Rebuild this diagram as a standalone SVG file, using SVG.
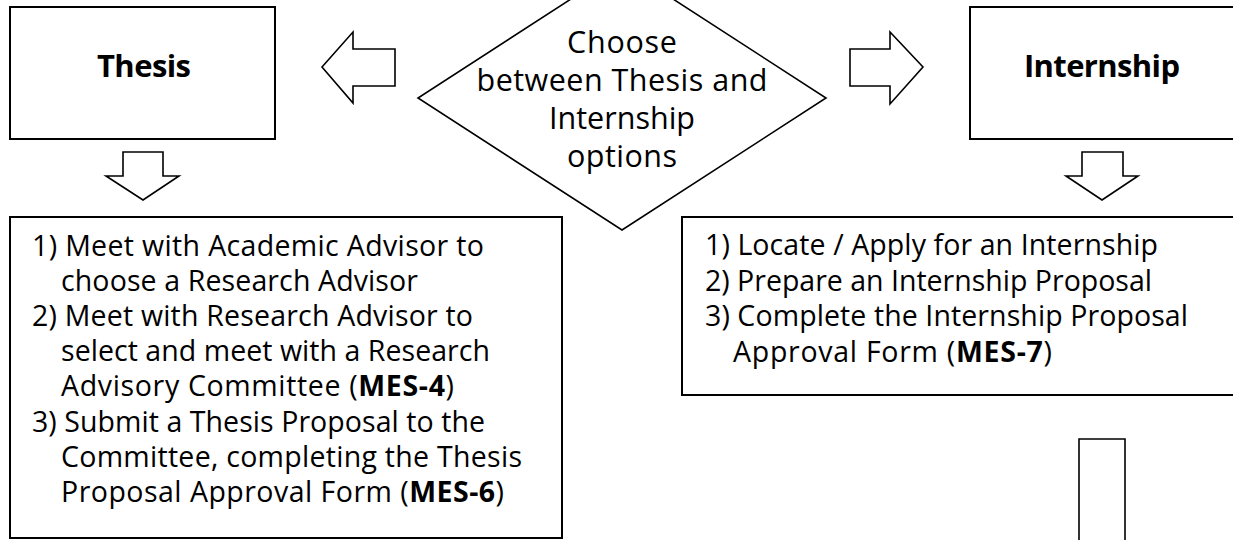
<svg xmlns="http://www.w3.org/2000/svg" width="1233" height="540" viewBox="0 0 1233 540">
<style>
  .box { fill: #fff; stroke: #000; stroke-width: 2; }
  .arr { fill: #fff; stroke: #000; stroke-width: 1.6; stroke-linejoin: miter; }
  .dia { fill: #fff; stroke: #000; stroke-width: 1.6; }
  text { font-family: "Open Sans", "Noto Sans", "Liberation Sans", sans-serif; fill: #000; }
  .title { font-size: 31px; font-weight: 700; text-anchor: middle; }
  .dtext { font-size: 30.5px; text-anchor: middle; }
  .body { font-size: 28.5px; }
  .b { font-weight: 700; }
</style>
<rect width="1233" height="540" fill="#fff"/>

<g id="decision">
  <polygon class="dia" points="622,-34 826,98 622,230 418,98"/>
  <text class="dtext" x="622" y="53" textLength="110">Choose</text>
  <text class="dtext" x="622" y="91" textLength="291">between Thesis and</text>
  <text class="dtext" x="622" y="129" textLength="146">Internship</text>
  <text class="dtext" x="622" y="167" textLength="110">options</text>
</g>

<g id="thesis">
  <rect class="box" x="10" y="7" width="265" height="132"/>
  <text class="title" x="144" y="77" textLength="94">Thesis</text>
</g>

<g id="internship">
  <rect class="box" x="970" y="7" width="280" height="132"/>
  <text class="title" x="1102" y="77" textLength="156">Internship</text>
</g>

<g id="thesis-steps">
  <rect class="box" x="10" y="217" width="552" height="321"/>
  <text class="body" x="32" y="256" textLength="452">1) Meet with Academic Advisor to</text>
  <text class="body" x="61" y="291" textLength="357">choose a Research Advisor</text>
  <text class="body" x="32" y="326" textLength="441">2) Meet with Research Advisor to</text>
  <text class="body" x="61" y="361" textLength="429">select and meet with a Research</text>
  <text class="body" x="61" y="396" textLength="393">Advisory Committee (<tspan class="b">MES-4</tspan>)</text>
  <text class="body" x="32" y="432" textLength="453">3) Submit a Thesis Proposal to the</text>
  <text class="body" x="61" y="467" textLength="461">Committee, completing the Thesis</text>
  <text class="body" x="61" y="502" textLength="443">Proposal Approval Form (<tspan class="b">MES-6</tspan>)</text>
</g>

<g id="internship-steps">
  <rect class="box" x="682" y="217" width="570" height="178"/>
  <text class="body" x="705" y="255" textLength="453">1) Locate / Apply for an Internship</text>
  <text class="body" x="705" y="291" textLength="447">2) Prepare an Internship Proposal</text>
  <text class="body" x="705" y="326" textLength="483">3) Complete the Internship Proposal</text>
  <text class="body" x="733" y="362" textLength="319">Approval Form (<tspan class="b">MES-7</tspan>)</text>
</g>

<g id="connectors">
  <polygon class="arr" points="322,67 353,32 353,49 395,49 395,86 353,86 353,103"/>
  <polygon class="arr" points="850,49 890,49 890,32 923,67 890,104 890,86 850,86"/>
  <polygon class="arr" points="123,152 163,152 163,176 179,176 143,200 106,176 123,176"/>
  <polygon class="arr" points="1082,152 1123,152 1123,176 1138,176 1102,200 1066,176 1082,176"/>
  <path class="arr" d="M1079,548 V439 H1125 V548"/>
</g>
</svg>
